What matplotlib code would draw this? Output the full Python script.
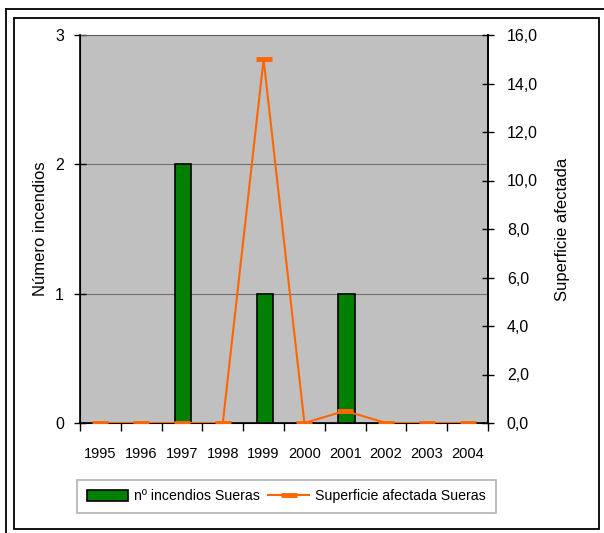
import matplotlib
matplotlib.use("Agg")
import matplotlib.pyplot as plt
from matplotlib.patches import Rectangle, Patch
from matplotlib.lines import Line2D
from matplotlib.ticker import FuncFormatter, FixedLocator
import numpy as np

plt.rcParams['font.family'] = ['Liberation Sans', 'DejaVu Sans']

years = ["1995", "1996", "1997", "1998", "1999", "2000", "2001", "2002", "2003", "2004"]
n_incendios = [0, 0, 2, 0, 1, 0, 1, 0, 0, 0]
superficie = [0, 0, 0, 0, 15.0, 0, 0.5, 0, 0, 0]

W, H = 604, 533
fig = plt.figure(figsize=(W / 100, H / 100), dpi=100)

# frames
def fx(px): return px / W
def fy(py): return 1 - py / H
fig.add_artist(Line2D([fx(6), 1.0], [fy(9), fy(9)], color='black', lw=1.3, transform=fig.transFigure))
fig.add_artist(Line2D([fx(6), fx(6)], [fy(9), 0.0], color='black', lw=1.3, transform=fig.transFigure))
fig.add_artist(Rectangle((fx(14), fy(529)), fx(599) - fx(14), fy(18) - fy(529),
                         fill=False, edgecolor='black', lw=1.3, transform=fig.transFigure))

left, right, top, bottom = 80, 488, 35, 423
ax = fig.add_axes([fx(left), fy(bottom), fx(right) - fx(left), fy(top) - fy(bottom)])
ax.set_facecolor('#C0C0C0')
x = np.arange(len(years))
ax.bar(x + 0.03, n_incendios, width=0.4, color='#008000', edgecolor='black', linewidth=1.2, zorder=3)
ax.set_xlim(-0.5, len(years) - 0.5)
ax.set_ylim(0, 3)
ax.set_yticks([0, 1, 2, 3])
for yv in [1, 2]:
    ax.axhline(yv, color='#707070', lw=0.8, zorder=1)

ax.set_xticks(x)
ax.set_xticklabels(years, fontsize=10.5)
ax.tick_params(axis='x', which='major', length=0, pad=17)
ax.xaxis.set_minor_locator(FixedLocator(np.arange(-0.5, len(years), 1.0)))
ax.tick_params(axis='x', which='minor', length=6, direction='out', width=1, color='black')
ax.tick_params(axis='y', direction='inout', length=9, width=1, labelsize=11.5, pad=7)
ax.set_ylabel('Número incendios', fontsize=12, labelpad=5)

for s in ['left', 'bottom', 'right']:
    ax.spines[s].set_color('black')
    ax.spines[s].set_linewidth(1.2)
ax.spines['top'].set_color('#606060')

ax2 = ax.twinx()
ax2.plot(x, superficie, color='#FF6600', lw=1.5, marker='_', markersize=11,
         markeredgewidth=3.5, zorder=4)
ax2.set_ylim(0, 16)
ax2.set_yticks(np.arange(0, 17, 2))
ax2.yaxis.set_major_formatter(FuncFormatter(lambda v, p: f"{v:.1f}".replace('.', ',')))
ax2.tick_params(axis='y', direction='inout', length=9, width=1, labelsize=11.5, pad=9)
ax2.set_ylabel('Superficie afectada', fontsize=12, labelpad=12)
ax2.spines['right'].set_color('black')
ax2.spines['right'].set_linewidth(1.2)
ax2.spines['top'].set_visible(False)

handles = [Patch(facecolor='#008000', edgecolor='black', linewidth=1.2),
           Line2D([0], [0], color='#FF6600', lw=1.5, marker='_', markersize=11, markeredgewidth=3.5)]
labels = ['nº incendios Sueras', 'Superficie afectada Sueras']
leg = fig.legend(handles, labels, loc='center', bbox_to_anchor=(0.474, 0.0685), ncol=2,
                 fontsize=10.2, frameon=True, fancybox=False, edgecolor='#A0A0A0',
                 handlelength=2.9, handleheight=0.9, columnspacing=0.6, handletextpad=0.4,
                 borderpad=0.7, borderaxespad=0.2)
leg.get_frame().set_linewidth(1.2)

fig.savefig('out.png', dpi=100)
